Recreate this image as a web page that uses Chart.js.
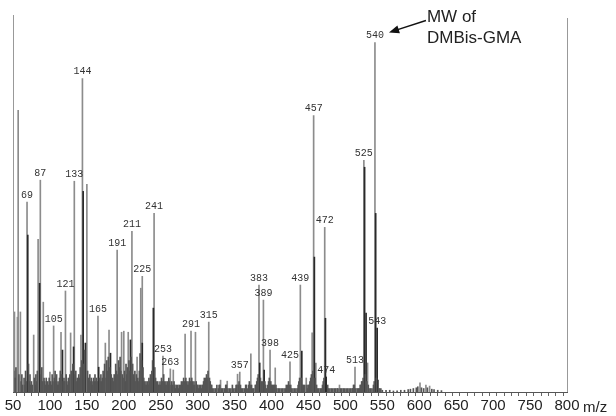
<!DOCTYPE html>
<html>
<head>
<meta charset="UTF-8">
<title>Mass spectrum</title>
<script src="https://cdn.jsdelivr.net/npm/chart.js"></script>
<style>
  body { margin: 0; background: #fff; }
  #wrap { width: 616px; height: 416px; position: relative; }
</style>
</head>
<body>
<div id="wrap"><canvas id="ms"></canvas></div>
<script>
// main peaks (light grey lines), relative intensity, 540 = 100
const peakMz  = [52, 56, 57, 60, 69, 78, 84, 87, 91, 100, 105, 115, 121, 128, 133, 142, 144, 150, 165, 175,
                 180, 191, 197, 200, 206, 211, 218, 223, 225, 241, 253, 263, 267, 283, 291, 297, 315, 331, 340, 354,
                 357, 372, 383, 389, 398, 405, 425, 439, 447, 455, 457, 460, 472, 492, 513, 525, 530, 540, 601, 609, 614];
const peakInt = [22.9, 21.4, 80.6, 22.9, 54.3, 16.3, 43.7, 60.6, 25.7, 5.7, 18.9, 17.1, 28.9, 16.9, 60.3, 16.3, 89.7, 59.4, 21.7, 14.0,
                 17.7, 40.6, 17.1, 17.4, 17.1, 46.0, 10.0, 29.7, 33.1, 51.1, 10.3, 6.6, 6.3, 16.6, 17.4, 17.1, 20.0, 3.4, 3.1, 5.1,
                 5.7, 10.9, 30.6, 26.3, 12.0, 6.9, 8.6, 30.6, 4.0, 16.9, 79.1, 8.3, 47.1, 2.0, 7.1, 66.3, 8.3, 100, 2.6, 2.0, 1.7];

// darker overlapping lines
const darkMz  = [70, 86, 117, 132, 145, 148, 166, 182, 209, 225, 240, 384, 390, 441, 458, 473, 474, 526, 528, 541, 543, 544];
const darkInt = [44.9, 31.1, 12.0, 12.9, 57.4, 14.0, 7.1, 11.1, 14.9, 14.0, 24.0, 8.3, 6.3, 11.7, 38.6, 21.1, 4.3, 64.3, 22.6, 51.1, 18.3, 3.4];

// small lines along the baseline [m/z, intensity]
const noise = [
  [51,6],[53,4],[54,7],[58,5],[61,3],[62,5],[63,2],[65,4],[66,2],[67,6],[68,3],[71,8],[72,3],[73,5],[74,2],[75,3],[76,2],
  [79,4],[80,2],[81,5],[82,3],[83,6],[88,5],[89,7],[90,3],[92,4],[93,3],[94,2],[95,4],[96,2],[97,3],[98,2],[99,4],
  [101,3],[102,2],[103,5],[104,3],[106,4],[107,6],[108,3],[109,5],[110,2],[111,3],[112,2],[113,4],[114,6],[116,5],
  [118,3],[119,4],[120,3],[122,5],[123,3],[124,2],[125,4],[126,3],[127,5],[129,6],[130,4],[131,8],[134,5],[135,6],
  [136,3],[137,4],[138,3],[139,5],[140,4],[141,7],[143,9],[146,8],[147,12],[151,6],[152,4],[153,3],[154,5],[155,3],
  [156,4],[157,3],[158,2],[159,4],[160,3],[161,5],[162,3],[163,4],[164,3],[167,4],[168,3],[169,5],[170,3],[171,4],
  [172,6],[173,5],[174,8],[176,4],[177,9],[178,6],[179,10],[181,7],[183,5],[184,3],[185,4],[186,3],[187,5],[188,4],
  [189,8],[190,6],[192,5],[193,9],[194,7],[195,10],[196,6],[198,5],[199,4],[201,6],[202,3],[203,8],[204,5],[205,7],
  [207,9],[208,6],[210,10],[212,8],[213,5],[214,4],[215,6],[216,3],[217,5],[219,4],[220,3],[221,6],[222,11],[224,9],
  [226,7],[227,4],[228,3],[229,2],[230,3],[231,2],[232,3],[233,2],[234,4],[235,3],[236,5],[237,4],[238,6],[239,9],
  [242,7],[243,4],[244,3],[245,2],[246,3],[247,2],[248,2],[249,3],[250,2],[251,4],[252,3],[254,5],[255,3],[256,2],
  [257,3],[258,2],[259,3],[260,2],[261,4],[262,3],[264,2],[265,3],[266,2],[268,3],[269,2],[270,1],[271,2],[272,1],
  [273,2],[274,1],[275,2],[276,1],[277,2],[278,3],[279,2],[280,3],[281,4],[282,3],[284,4],[285,3],[286,2],[287,3],
  [288,2],[289,4],[290,3],[292,4],[293,3],[294,2],[295,3],[296,2],[298,3],[299,2],[300,2],[301,1],[302,2],[303,1],
  [304,2],[305,1],[306,2],[307,2],[308,3],[309,4],[310,3],[311,4],[312,5],[313,4],[314,6],[316,4],[317,3],[318,2],
  [319,2],[320,1],[322,1],[324,1],[326,2],[328,1],[329,2],[330,2],[332,1],[334,1],[336,1],[338,2],[339,2],[341,1],
  [343,1],[345,1],[347,2],[349,1],[351,1],[352,2],[353,2],[355,2],[356,3],[358,2],[359,1],[361,1],[363,1],[365,2],
  [366,2],[367,1],[369,2],[370,3],[371,2],[373,2],[374,1],[376,1],[378,2],[379,2],[380,3],[381,4],[382,5],[385,4],
  [386,3],[387,2],[388,3],[391,3],[392,2],[393,1],[395,2],[396,3],[397,4],[399,3],[400,2],[401,2],[402,1],[403,2],
  [404,2],[406,2],[407,1],[409,1],[411,1],[413,1],[415,1],[417,1],[419,1],[420,2],[421,1],[422,2],[423,3],[424,2],
  [426,2],[427,1],[429,1],[431,1],[433,1],[435,1],[436,2],[437,3],[438,4],[440,4],[442,2],[443,2],[444,1],[445,2],
  [448,2],[449,1],[450,2],[451,2],[452,3],[453,4],[454,5],[456,6],[459,4],[461,2],[462,1],[464,1],[466,1],[468,1],
  [469,2],[470,3],[471,4],[476,2],[477,1],[479,1],[481,1],[483,1],[485,1],[487,1],[489,1],[490,1],[493,1],[495,1],
  [497,1],[499,1],[501,1],[503,1],[505,1],[507,1],[509,1],[510,1],[511,2],[512,2],[514,1],[516,1],[518,1],[519,1],
  [520,2],[521,2],[522,3],[523,3],[524,4],[527,5],[529,3],[531,2],[532,1],[534,1],[536,1],[538,2],[539,3],[542,4],
  [545,1],[546,1],[548,1],[550,0.5],[555,0.5],[560,0.5],[565,0.3],[570,0.3],[575,0.5],[580,0.5],[585,0.7],[588,0.8],
  [592,1],[596,1.2],[598,1.5],[603,1.2],[606,1],[611,1.2],[617,0.8],[620,0.7],[625,0.5],[630,0.4]
];

// peaks that carry an m/z label
const labelMz = [69, 87, 105, 121, 133, 144, 165, 191, 211, 225, 241, 253, 263, 291, 315,
                 357, 383, 389, 398, 425, 439, 457, 472, 474, 513, 525, 540, 543];

const toXY = (xs, ys) => xs.map((x, i) => ({ x: x, y: ys[i] }));

// highest line at a given m/z, for placing labels
const heightAt = (mz) => {
  let h = 0;
  peakMz.forEach((m, i) => { if (m === mz) h = Math.max(h, peakInt[i]); });
  darkMz.forEach((m, i) => { if (m === mz) h = Math.max(h, darkInt[i]); });
  return h;
};

const decorations = {
  id: 'decorations',
  afterDatasetsDraw(chart) {
    const ctx = chart.ctx;
    const xs = chart.scales.x, ys = chart.scales.y;
    const area = chart.chartArea;
    ctx.save();

    // side frame lines
    ctx.strokeStyle = '#999';
    ctx.lineWidth = 1;
    ctx.beginPath();
    ctx.moveTo(Math.round(area.left) + 0.5, area.top - 3);
    ctx.lineTo(Math.round(area.left) + 0.5, area.bottom);
    ctx.moveTo(Math.round(area.right) + 0.5, area.top);
    ctx.lineTo(Math.round(area.right) + 0.5, area.bottom);
    ctx.stroke();

    // peak labels
    ctx.fillStyle = '#333';
    ctx.font = '10px "Liberation Mono", "DejaVu Sans Mono", monospace';
    ctx.textAlign = 'center';
    ctx.textBaseline = 'bottom';
    labelMz.forEach(mz => {
      const px = xs.getPixelForValue(mz);
      const py = ys.getPixelForValue(heightAt(mz));
      ctx.fillText(String(mz), px, py - 2);
    });

    // molecular weight note with arrow
    const tipX = xs.getPixelForValue(540) + 14;
    const tipY = ys.getPixelForValue(100) - 10;
    const tailX = tipX + 37, tailY = tipY - 12;
    ctx.strokeStyle = '#111';
    ctx.fillStyle = '#111';
    ctx.lineWidth = 1.5;
    ctx.beginPath();
    ctx.moveTo(tailX, tailY);
    ctx.lineTo(tipX + 8, tipY - 2.6);
    ctx.stroke();
    const ang = Math.atan2(tipY - tailY, tipX - tailX);
    ctx.beginPath();
    ctx.moveTo(tipX, tipY);
    ctx.lineTo(tipX - 11 * Math.cos(ang - 0.38), tipY - 11 * Math.sin(ang - 0.38));
    ctx.lineTo(tipX - 11 * Math.cos(ang + 0.38), tipY - 11 * Math.sin(ang + 0.38));
    ctx.closePath();
    ctx.fill();

    ctx.fillStyle = '#222';
    ctx.font = '17px "Liberation Sans", Arial, sans-serif';
    ctx.textAlign = 'left';
    ctx.textBaseline = 'alphabetic';
    ctx.fillText('MW of', tailX + 1, 22);
    ctx.fillText('DMBis-GMA', tailX + 1, 43);

    // axis unit
    ctx.font = '15px "Liberation Sans", Arial, sans-serif';
    ctx.fillText('m/z', area.right + 16, area.bottom + 20);

    ctx.restore();
  }
};

new Chart(document.getElementById('ms'), {
  type: 'bar',
  data: {
    datasets: [
      { label: 'noise', data: noise.map(p => ({ x: p[0], y: p[1] })), backgroundColor: '#555555', order: 1 },
      { label: 'dark', data: toXY(darkMz, darkInt), backgroundColor: '#2a2a2a', order: 2 },
      { label: 'peaks', data: toXY(peakMz, peakInt), backgroundColor: '#8c8c8c', order: 3 }
    ]
  },
  options: {
    responsive: true,
    maintainAspectRatio: false,
    animation: false,
    layout: { padding: { left: 13, right: 49, top: 18, bottom: 0 } },
    datasets: { bar: { barThickness: 1, grouped: false, borderWidth: 0 } },
    plugins: { legend: { display: false }, tooltip: { enabled: false } },
    scales: {
      x: {
        type: 'linear',
        min: 50,
        max: 800,
        offset: false,
        grid: { drawOnChartArea: false, drawTicks: true, tickLength: 4, color: '#666' },
        border: { display: true, color: '#555' },
        ticks: {
          stepSize: 10,
          autoSkip: false,
          maxRotation: 0,
          padding: 1,
          color: '#222',
          font: { family: '"Liberation Sans", Arial, sans-serif', size: 15 },
          callback: v => (v % 50 === 0 ? v : '')
        }
      },
      y: {
        display: false,
        min: 0,
        max: 107
      }
    }
  },
  plugins: [decorations]
});
</script>
</body>
</html>
